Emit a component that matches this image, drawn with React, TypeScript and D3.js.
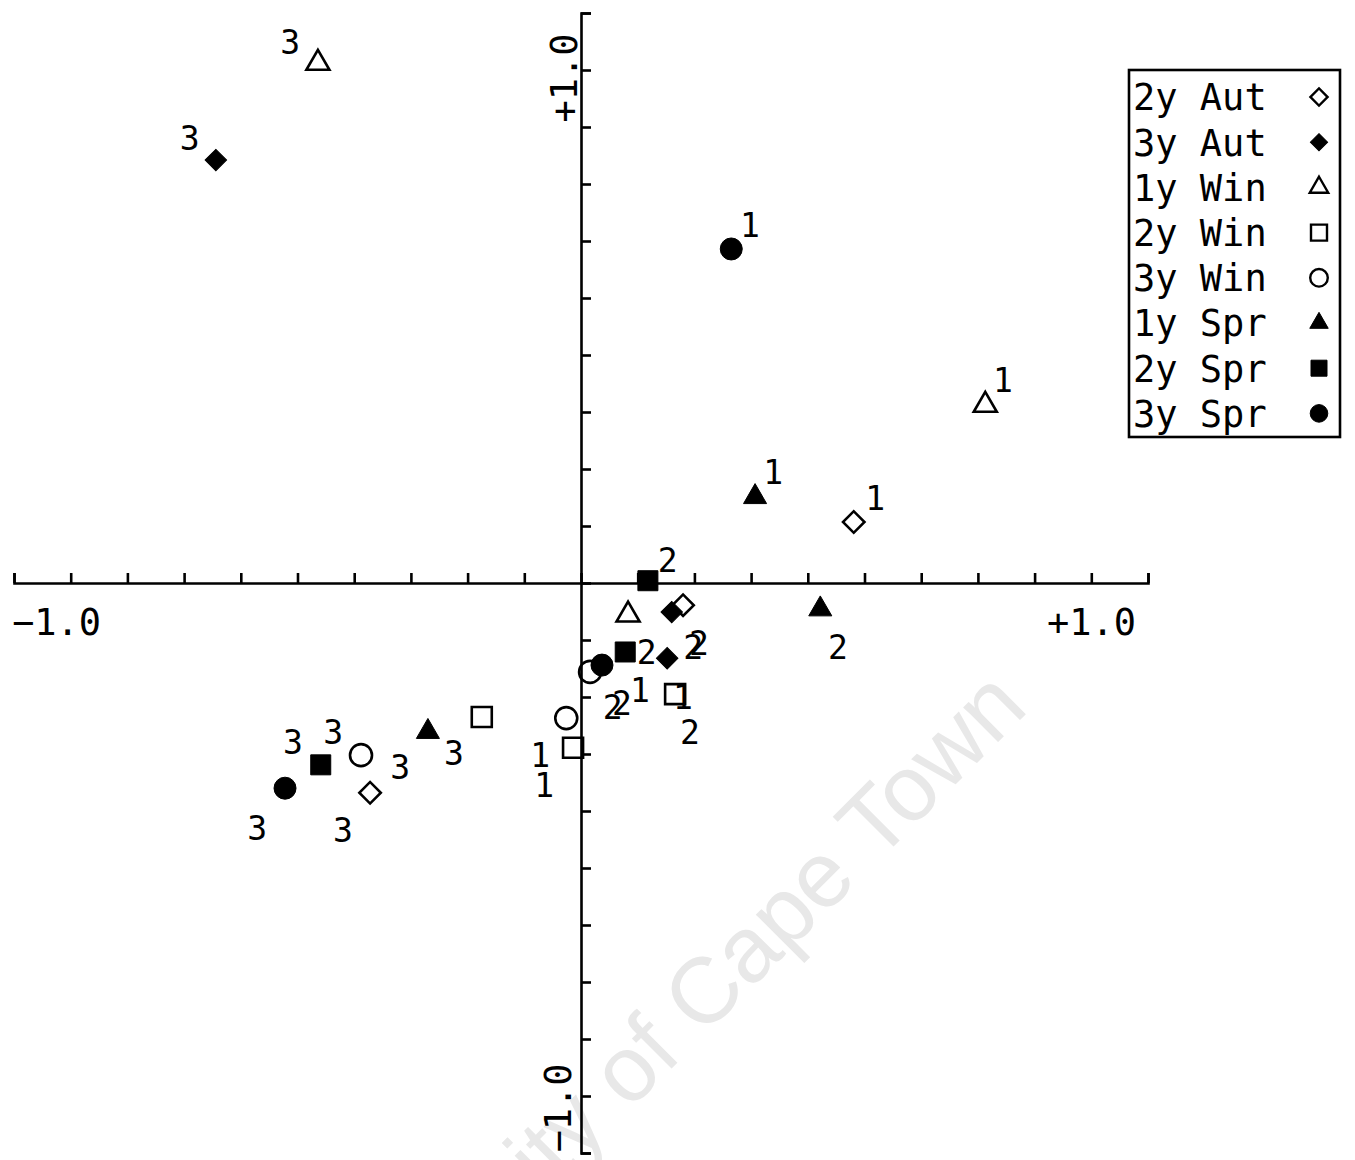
import { useEffect, useRef } from 'react';
import * as d3 from 'd3';

// series in legend order
const seriesNames = ['2y Aut', '3y Aut', '1y Win', '2y Win', '3y Win', '1y Spr', '2y Spr', '3y Spr'];
const seriesShapes = ['diamond', 'diamond', 'triangle', 'square', 'circle', 'triangle', 'square', 'circle'];
const seriesFilled = [false, true, false, false, false, true, true, true];

// ordination scores [axis 1, axis 2] for each series
const aut2 = [[0.481, 0.107], [0.18, -0.039], [-0.372, -0.368]];
const aut3 = [[-0.644, 0.742], [0.16, -0.051], [0.152, -0.132]];
const win1 = [[-0.464, 0.912], [0.713, 0.312], [0.083, -0.056]];
const win2 = [[0.166, -0.195], [-0.014, -0.289], [-0.175, -0.235]];
const win3 = [[0.016, -0.156], [-0.026, -0.237], [-0.388, -0.302]];
const spr1 = [[0.307, 0.151], [0.422, -0.046], [-0.27, -0.261]];
const spr2 = [[0.118, 0.004], [0.078, -0.121], [-0.459, -0.319]];
const spr3 = [[0.265, 0.586], [0.037, -0.144], [-0.522, -0.36]];
const seriesPoints = [aut2, aut3, win1, win2, win3, spr1, spr2, spr3];

// the small 1/2/3 codes written next to the points
const codeText = ['3', '3', '1', '1', '1', '1', '2', '2', '2', '2', '2', '2', '2', '1', '1', '2', '1', '1', '3', '3', '3', '3', '3', '3'];
const codeX = [-0.513, -0.69, 0.298, 0.744, 0.339, 0.519, 0.153, 0.453, 0.116, 0.198, 0.208, 0.056, 0.072, 0.104, 0.18, 0.192, -0.072, -0.065, -0.508, -0.437, -0.319, -0.224, -0.571, -0.42];
const codeY = [0.949, 0.781, 0.628, 0.356, 0.195, 0.149, 0.04, -0.112, -0.121, -0.112, -0.105, -0.218, -0.211, -0.188, -0.2, -0.261, -0.302, -0.354, -0.279, -0.261, -0.323, -0.298, -0.43, -0.433];

const axisTicks = d3.range(-10, 11).map((i) => i / 10);
const axisLabels = ['\u22121.0', '+1.0'];

const FONT = "'DejaVu Sans Mono', monospace";

const symbolFor = (shape: string, big: boolean) => {
  const s = big ? 1 : 0.8;
  if (shape === 'diamond') return d3.symbol(d3.symbolSquare, 230 * s * s)();
  if (shape === 'triangle') return d3.symbol(d3.symbolTriangle, 230 * s * s)();
  if (shape === 'square') return d3.symbol(d3.symbolSquare, 400 * s * s)();
  return d3.symbol(d3.symbolCircle, 380 * s * s)();
};

const App = () => {
  const ref = useRef<SVGSVGElement | null>(null);

  useEffect(() => {
    const width = 1355;
    const height = 1160;
    const svg = d3.select(ref.current);
    svg.selectAll('*').remove();

    const x = d3.scaleLinear().domain([-1, 1]).range([14, 1148]);
    const y = d3.scaleLinear().domain([-1, 1]).range([1153, 13]);

    svg.append('rect').attr('width', width).attr('height', height).attr('fill', '#fff');

    // watermark
    svg
      .append('text')
      .attr('transform', 'translate(1030,710) rotate(-45)')
      .attr('text-anchor', 'end')
      .attr('font-family', "'Liberation Sans', Arial, sans-serif")
      .attr('font-size', 93)
      .attr('fill', '#e8e8e8')
      .text('University of Cape Town');

    // axes
    const xAxis = d3.axisTop(x).tickValues(axisTicks).tickSize(10).tickSizeOuter(10).tickFormat(() => '');
    const yAxis = d3.axisRight(y).tickValues(axisTicks).tickSize(10).tickSizeOuter(10).tickFormat(() => '');
    const gx = svg.append('g').attr('transform', `translate(0,${y(0)})`).call(xAxis);
    const gy = svg.append('g').attr('transform', `translate(${x(0)},0)`).call(yAxis);
    [gx, gy].forEach((g) => {
      g.selectAll('path, line').attr('stroke', '#000').attr('stroke-width', 2.6);
      g.select('.domain').attr('fill', 'none');
    });

    // axis end labels
    svg
      .append('text')
      .attr('x', x(-1) - 2)
      .attr('y', y(0) + 52)
      .attr('font-family', FONT)
      .attr('font-size', 37)
      .text(axisLabels[0]);
    svg
      .append('text')
      .attr('x', x(1) - 12)
      .attr('y', y(0) + 52)
      .attr('text-anchor', 'end')
      .attr('font-family', FONT)
      .attr('font-size', 37)
      .text(axisLabels[1]);
    svg
      .append('text')
      .attr('transform', `translate(${x(0) - 4},${y(1) + 65}) rotate(-90)`)
      .attr('text-anchor', 'middle')
      .attr('font-family', FONT)
      .attr('font-size', 37)
      .text(axisLabels[1]);
    svg
      .append('text')
      .attr('transform', `translate(${x(0) - 10},${y(-1) - 45}) rotate(-90)`)
      .attr('text-anchor', 'middle')
      .attr('font-family', FONT)
      .attr('font-size', 37)
      .text(axisLabels[0]);

    // points
    const gPts = svg.append('g');
    seriesPoints.forEach((pts, si) => {
      const shape = seriesShapes[si];
      const filled = seriesFilled[si];
      gPts
        .selectAll(null)
        .data(pts)
        .enter()
        .append('path')
        .attr('d', symbolFor(shape, true))
        .attr(
          'transform',
          (d) => `translate(${x(d[0])},${y(d[1])})${shape === 'diamond' ? ' rotate(45)' : ''}`
        )
        .attr('fill', filled ? '#000' : 'none')
        .attr('stroke', '#000')
        .attr('stroke-width', filled ? 1 : 2.6);
    });

    // codes
    svg
      .append('g')
      .selectAll('text')
      .data(codeText)
      .enter()
      .append('text')
      .attr('x', (d, i) => x(codeX[i]))
      .attr('y', (d, i) => y(codeY[i]))
      .attr('dy', '0.36em')
      .attr('text-anchor', 'middle')
      .attr('font-family', FONT)
      .attr('font-size', 33)
      .text((d) => d);

    // legend
    const lg = svg.append('g');
    lg.append('rect')
      .attr('x', 1129)
      .attr('y', 70)
      .attr('width', 211)
      .attr('height', 367)
      .attr('fill', '#fff')
      .attr('stroke', '#000')
      .attr('stroke-width', 2.6);
    const row = lg
      .selectAll('g.row')
      .data(seriesNames)
      .enter()
      .append('g')
      .attr('class', 'row')
      .attr('transform', (d, i) => `translate(0,${97 + i * 45.2})`);
    row
      .append('text')
      .attr('x', 1133)
      .attr('dy', '0.36em')
      .attr('font-family', FONT)
      .attr('font-size', 37)
      .text((d) => d);
    row
      .append('path')
      .attr('d', (d, i) => symbolFor(seriesShapes[i], false))
      .attr('transform', (d, i) => `translate(1319,0)${seriesShapes[i] === 'diamond' ? ' rotate(45)' : ''}`)
      .attr('fill', (d, i) => (seriesFilled[i] ? '#000' : 'none'))
      .attr('stroke', '#000')
      .attr('stroke-width', (d, i) => (seriesFilled[i] ? 1 : 2.4));
  }, []);

  return (
    <svg
      ref={ref}
      width={1355}
      height={1160}
      style={{ position: 'absolute', left: 0, top: 0, display: 'block' }}
    />
  );
};

export default App;
